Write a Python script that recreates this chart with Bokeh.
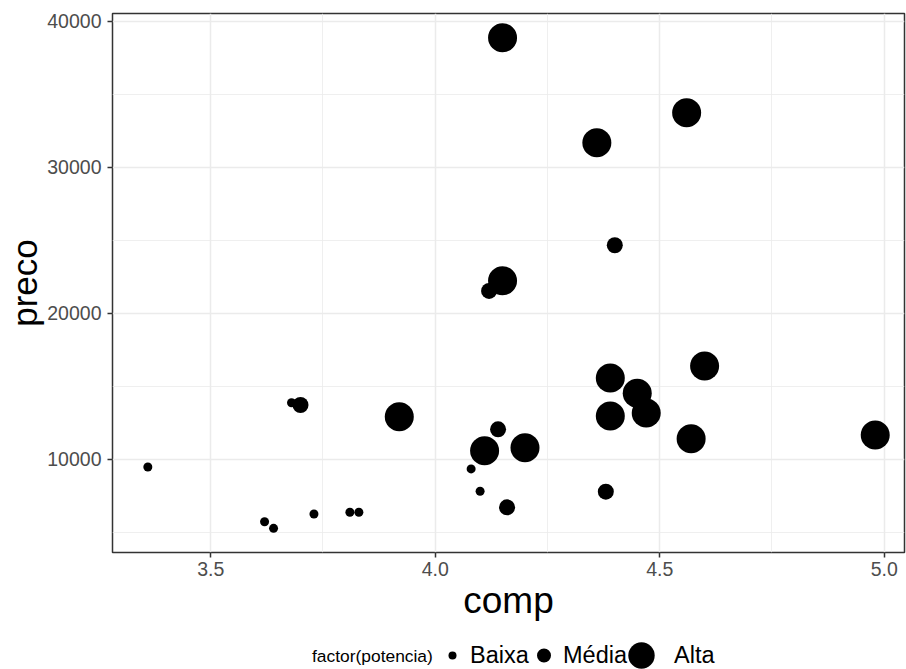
from bokeh.plotting import figure
from bokeh.layouts import column
from bokeh.models import (ColumnDataSource, FixedTicker, NumeralTickFormatter,
                          Legend, LegendItem, Label, Range1d)
from bokeh.embed import file_html
from bokeh.resources import INLINE

# ---- data ----
categories = ["Baixa", "Média", "Alta"]

comp_baixa = [3.36, 3.68, 3.62, 3.64, 3.73, 3.81, 3.83, 4.08, 4.10]
preco_baixa = [9450, 13850, 5700, 5250, 6230, 6350, 6350, 9320, 7790]

comp_media = [3.70, 4.12, 4.14, 4.16, 4.38, 4.40]
preco_media = [13700, 21510, 12030, 6690, 7760, 24640]

comp_alta = [3.92, 4.11, 4.15, 4.15, 4.20, 4.36, 4.39, 4.39, 4.45, 4.47,
             4.56, 4.57, 4.60, 4.98]
preco_alta = [12900, 10570, 38860, 22210, 10770, 31660, 15550, 12950, 14500,
              13150, 33720, 11390, 16370, 11640]

x_ticks = [3.5, 4.0, 4.5, 5.0]
x_minor_ticks = [3.25, 3.75, 4.25, 4.75]
y_ticks = [10000, 20000, 30000, 40000]
y_minor_ticks = [5000, 15000, 25000, 35000]

legend_title = "factor(potencia)"
x_title = "comp"
y_title = "preco"

# ---- styles ----
FONT = "Liberation Sans"
point_sizes = {"Baixa": 9, "Média": 16, "Alta": 29}
key_boxes = {"Baixa": 20, "Média": 35, "Alta": 66}     # legend key size = 0.4 * box
key_standoff = {"Baixa": 8, "Média": 2, "Alta": 0}
key_left = {"Baixa": 330, "Média": 414, "Alta": 496}   # px from plot frame's left edge

W = 906
H_MAIN = 625
H_LEG = 44

p = figure(width=W, height=H_MAIN, output_backend="svg", toolbar_location=None,
           x_range=Range1d(3.2813, 5.0452), y_range=Range1d(3596, 40514),
           min_border_left=112, min_border_right=2, min_border_top=13,
           min_border_bottom=H_MAIN - 552)
p.background_fill_color = "white"
p.border_fill_color = "white"
p.outline_line_color = "#333333"
p.outline_line_width = 1.5

data = {
    "Baixa": (comp_baixa, preco_baixa),
    "Média": (comp_media, preco_media),
    "Alta": (comp_alta, preco_alta),
}
for cat in categories:
    xs, ys = data[cat]
    src = ColumnDataSource(dict(comp=xs, preco=ys))
    p.scatter("comp", "preco", source=src, size=point_sizes[cat],
              fill_color="black", line_color="black", line_width=0)

# axes
p.xaxis.ticker = FixedTicker(ticks=x_ticks, minor_ticks=x_minor_ticks)
p.yaxis.ticker = FixedTicker(ticks=y_ticks, minor_ticks=y_minor_ticks)
p.xaxis.formatter = NumeralTickFormatter(format="0.0")
p.yaxis.formatter = NumeralTickFormatter(format="0")
for ax in (p.xaxis, p.yaxis):
    ax.axis_line_color = None
    ax.major_tick_line_color = "#333333"
    ax.major_tick_line_width = 1.5
    ax.major_tick_out = 5
    ax.major_tick_in = 0
    ax.minor_tick_line_color = None
    ax.major_label_text_font = FONT
    ax.major_label_text_font_size = "19.5px"
    ax.major_label_text_color = "#4D4D4D"
    ax.axis_label_text_font = FONT
    ax.axis_label_text_font_style = "normal"
    ax.axis_label_text_color = "black"
p.xaxis.axis_label = x_title
p.yaxis.axis_label = y_title
p.xaxis.axis_label_text_font_size = "37px"
p.yaxis.axis_label_text_font_size = "35px"
p.xaxis.major_label_standoff = 4
p.yaxis.major_label_standoff = 6
p.xaxis.axis_label_standoff = 1
p.yaxis.axis_label_standoff = 0

# grid
for g in (p.xgrid, p.ygrid):
    g.grid_line_color = "#EBEBEB"
    g.grid_line_width = 1.5
    g.minor_grid_line_color = "#EBEBEB"
    g.minor_grid_line_width = 0.8

# ---- legend strip (keys of different sizes, as in ggplot) ----
lp = figure(width=W, height=H_LEG, output_backend="svg", toolbar_location=None,
            x_axis_type=None, y_axis_type=None, x_range=Range1d(0, 1),
            y_range=Range1d(0, 1), min_border=0)
lp.outline_line_color = None
lp.background_fill_color = "white"
lp.border_fill_color = "white"
lp.xgrid.visible = False
lp.ygrid.visible = False

key_center_from_bottom = 14
for cat in categories:
    # key-only renderer: one undefined (NaN) point, so nothing is drawn in the strip
    key_src = ColumnDataSource(dict(x=[float("nan")], y=[float("nan")]))
    r = lp.scatter("x", "y", source=key_src, fill_color="black",
                   line_color="black", line_width=0)
    box = key_boxes[cat]
    lg = Legend(items=[LegendItem(label=cat, renderers=[r], index=0)],
                location=(key_left[cat], key_center_from_bottom - 35),
                orientation="horizontal",
                glyph_width=box, glyph_height=70,
                label_standoff=key_standoff[cat],
                label_text_font=FONT, label_text_font_size="23.5px",
                label_text_color="black",
                padding=0, margin=0, spacing=0,
                border_line_color=None, background_fill_alpha=0)
    lp.add_layout(lg)

title_lbl = Label(x=199.5, y=key_center_from_bottom, x_units="screen",
                  y_units="screen", text=legend_title, text_font=FONT,
                  text_font_size="17.4px", text_baseline="middle",
                  text_align="left", text_color="black")
lp.add_layout(title_lbl)

layout = column(p, lp, spacing=0)
open("out.html", "w").write(file_html(layout, INLINE))
